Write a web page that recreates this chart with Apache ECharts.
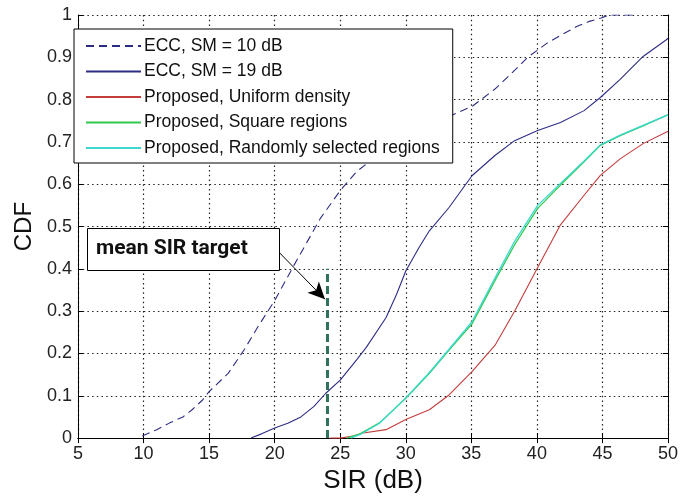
<!DOCTYPE html>
<html>
<head>
<meta charset="utf-8">
<script src="https://cdn.jsdelivr.net/npm/echarts@6/dist/echarts.min.js"></script>
<style>
html,body{margin:0;padding:0;background:#fff;}
#chart{width:681px;height:499px;}
</style>
</head>
<body>
<div id="chart"></div>
<script>
// ---- data ----
const xTicks = [5, 10, 15, 20, 25, 30, 35, 40, 45, 50];
const yTicks = [0, 0.1, 0.2, 0.3, 0.4, 0.5, 0.6, 0.7, 0.8, 0.9, 1];

const names = [
  'ECC, SM = 10 dB',
  'ECC, SM = 19 dB',
  'Proposed, Uniform density',
  'Proposed, Square regions',
  'Proposed, Randomly selected regions'
];

const ecc10X = [9.9, 11, 12, 13, 13.7, 14.5, 15, 16.45, 17.7, 18.7, 20, 21.5, 22.5, 23.5, 25, 26.25, 27.5, 29, 30.5, 32, 33.3, 35.1, 36.8, 38, 39.3, 40.8, 42, 43, 44, 44.9, 45.5, 47.6];
const ecc10Y = [0.005, 0.02, 0.036, 0.05, 0.067, 0.09, 0.11, 0.153, 0.21, 0.262, 0.325, 0.41, 0.465, 0.52, 0.585, 0.63, 0.66, 0.69, 0.72, 0.745, 0.76, 0.785, 0.825, 0.86, 0.9, 0.934, 0.955, 0.972, 0.985, 0.993, 1.0, 1.0];

const ecc19X = [18.2, 19, 20, 21, 22, 23, 23.9, 25, 26.25, 27, 28.5, 29.3, 30, 31, 31.8, 33.3, 35.05, 36.8, 38.3, 40.06, 41.8, 43.6, 44.84, 46.35, 48.1, 49.85, 50];
const ecc19Y = [0.0, 0.01, 0.024, 0.035, 0.05, 0.075, 0.106, 0.137, 0.185, 0.215, 0.285, 0.34, 0.395, 0.45, 0.49, 0.545, 0.62, 0.668, 0.703, 0.727, 0.746, 0.774, 0.805, 0.848, 0.902, 0.941, 0.945];

const uniformX = [24.2, 25, 26, 26.75, 28.5, 30, 31.8, 33.3, 35.05, 36.8, 38.3, 40.06, 41.8, 43.6, 44.84, 46.35, 48.1, 49.85, 50];
const uniformY = [0, 0, 0.005, 0.012, 0.02, 0.044, 0.067, 0.102, 0.157, 0.219, 0.30, 0.403, 0.504, 0.574, 0.621, 0.66, 0.696, 0.723, 0.725];

const squareX = [25.5, 26.5, 28, 30, 31.8, 33.3, 35.05, 36.8, 38.3, 40.06, 41.8, 43.6, 44.84, 46.35, 48.1, 49.85, 50];
const squareY = [0, 0.01, 0.036, 0.094, 0.153, 0.208, 0.27, 0.372, 0.457, 0.543, 0.598, 0.653, 0.692, 0.715, 0.738, 0.762, 0.764];

const randomX = [25.8, 26.5, 28, 30, 31.8, 33.3, 35.05, 36.8, 38.3, 40.06, 41.8, 43.6, 44.84, 46.35, 48.1, 49.85, 50];
const randomY = [0, 0.008, 0.035, 0.095, 0.155, 0.21, 0.275, 0.378, 0.465, 0.55, 0.602, 0.655, 0.693, 0.716, 0.739, 0.762, 0.764];

// annotation: mean SIR target
const targetX = 24;
const targetTop = 0.4;
const arrowFrom = [20.15, 0.445];
const arrowTo = [23.84, 0.328];
const annotationText = 'mean SIR target';

// ---- build ----
function zip(xs, ys) { return xs.map((x, i) => [x, ys[i]]); }

const FONT = '"Liberation Sans", Arial, sans-serif';
const navy = '#2c2c84';
const chart = echarts.init(document.getElementById('chart'), null, {renderer: 'canvas'});

const labelFont = {fontFamily: FONT, color: '#222', fontSize: 18};

function curve(name, xs, ys, color, width, type) {
  return {
    name: name, type: 'line', data: zip(xs, ys), symbol: 'none', showSymbol: false,
    smooth: false,
    lineStyle: {color: color, width: width, type: type || 'solid'},
    itemStyle: {color: color}, z: 3
  };
}

const option = {
  animation: false,
  backgroundColor: '#fff',
  grid: {left: 78, right: 6, top: 15, bottom: 57},
  legend: {
    data: names,
    orient: 'vertical',
    left: 74,
    top: 29,
    padding: [8, 13, 6, 11],
    itemGap: 7.5,
    itemWidth: 55,
    itemHeight: 14,
    itemStyle: {opacity: 0},
    backgroundColor: '#fff',
    borderColor: '#000',
    borderWidth: 1,
    borderRadius: 0,
    textStyle: {fontFamily: FONT, fontSize: 17.5, color: '#111', lineHeight: 18, padding: [0, 0, 0, -2]},
    selectedMode: false
  },
  xAxis: [{
    type: 'value', min: 5, max: 50, interval: 5,
    name: 'SIR (dB)', nameLocation: 'middle', nameGap: 29,
    nameTextStyle: {fontFamily: FONT, fontSize: 26, color: '#111'},
    axisLine: {lineStyle: {color: '#000', width: 1}},
    axisTick: {inside: true, length: 5, lineStyle: {color: '#000'}},
    axisLabel: Object.assign({margin: 7, formatter: v => xTicks.includes(v) ? String(v) : ''}, labelFont),
    splitLine: {show: true, lineStyle: {color: '#222', type: [1.5, 3.2], width: 1.2}}
  }, {
    type: 'value', min: 5, max: 50, interval: 5, position: 'top',
    axisLine: {lineStyle: {color: '#000', width: 1}},
    axisTick: {inside: true, length: 5, lineStyle: {color: '#000'}},
    axisLabel: {show: false}, splitLine: {show: false}
  }],
  yAxis: [{
    type: 'value', min: 0, max: 1, interval: 0.1,
    name: 'CDF', nameLocation: 'middle', nameGap: 40,
    nameTextStyle: {fontFamily: FONT, fontSize: 24, color: '#111'},
    axisLine: {show: true, lineStyle: {color: '#000', width: 1}},
    axisTick: {show: true, inside: true, length: 5, lineStyle: {color: '#000'}},
    axisLabel: Object.assign({margin: 6, formatter: v => {
      const t = yTicks.find(k => Math.abs(k - v) < 1e-9);
      return t === undefined ? '' : String(t);
    }}, labelFont),
    splitLine: {show: true, lineStyle: {color: '#222', type: [1.5, 3.2], width: 1.2}}
  }, {
    type: 'value', min: 0, max: 1, interval: 0.1, position: 'right',
    axisLine: {show: true, lineStyle: {color: '#000', width: 1}},
    axisTick: {show: true, inside: true, length: 5, lineStyle: {color: '#000'}},
    axisLabel: {show: false}, splitLine: {show: false}
  }],
  series: [
    curve(names[0], ecc10X, ecc10Y, navy, 1.1, [8, 5]),
    curve(names[1], ecc19X, ecc19Y, navy, 1.1),
    curve(names[2], uniformX, uniformY, '#c43c3c', 1.1),
    curve(names[3], squareX, squareY, '#30c850', 1.3),
    curve(names[4], randomX, randomY, '#3cd8d0', 1.3),
    {name: 'annot', type: 'line', data: [], symbol: 'none', z: 5,
     markLine: {
       silent: true, animation: false,
       label: {show: false},
       data: [
         [{coord: [targetX, 0], symbol: 'none', lineStyle: {color: '#2f735a', width: 3, type: [8, 4]}},
          {coord: [targetX, targetTop], symbol: 'none'}],
         [{coord: arrowFrom, symbol: 'none', lineStyle: {color: '#000', width: 1, type: 'solid'}},
          {coord: arrowTo, symbol: 'arrow', symbolSize: [12, 17]}]
       ]
     }}
  ],
  graphic: [
    {type: 'rect', left: 87, top: 228, z: 10,
     shape: {width: 192, height: 42},
     style: {fill: '#fff', stroke: '#000', lineWidth: 1}},
    {type: 'text', left: 96, top: 238, z: 11,
     style: {text: annotationText, font: 'bold 21px Roboto, sans-serif', fill: '#111'}}
  ]
};
chart.setOption(option);
</script>
</body>
</html>
